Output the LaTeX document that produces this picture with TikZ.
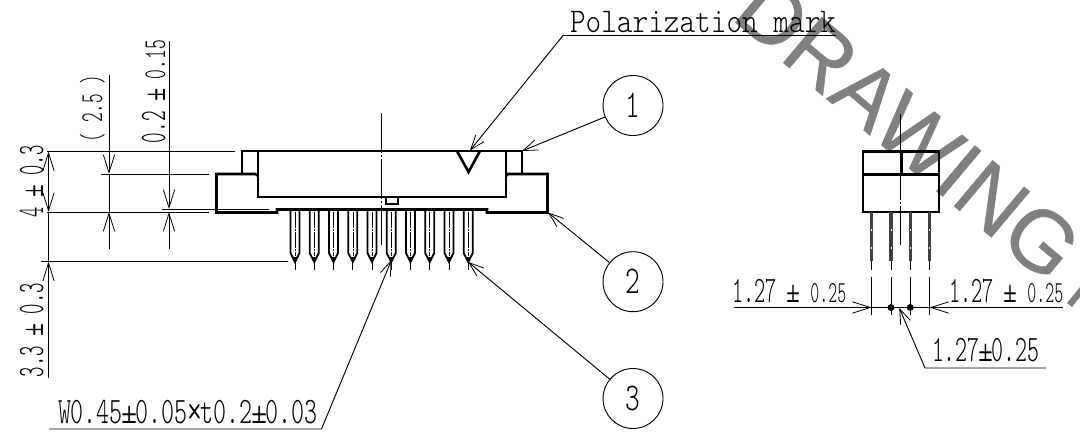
\documentclass[tikz,border=0pt]{standalone}
\usepackage{fontspec}
\usetikzlibrary{arrows.meta}
\newfontfamily\stampFont[FakeBold=0.6]{Liberation Sans}
\newcommand{\fitText}[3]{\scalebox{#1}[#2]{\fontseries{l}\ttfamily #3}}
\newcommand{\pmSign}{\makebox[5.25pt]{\scalebox{1.25}[1.05]{±}}}
\newcommand{\xSign}{\makebox[5.25pt]{\raisebox{-0.8pt}{\scalebox{1.3}[1.2]{×}}}}
\tikzset{
thinLine/.style={line width=0.7pt},
bodyLine/.style={line width=1.9pt, line join=miter},
axisLine/.style={line width=0.6pt, dash pattern=on 30pt off 1.5pt on 1.5pt off 1.5pt},
dimHead/.style={thinLine, >={Straight Barb[length=13.5pt,width=8.5pt,line width=0.6pt]}},
leadHead/.style={thinLine, >={Straight Barb[length=11pt,width=8pt,line width=0.6pt]}},
label/.style={inner sep=0pt, outer sep=0pt, anchor=base west},
partMark/.style={circle, draw, thinLine, minimum size=45pt, inner sep=0pt}
}
\begin{document}
\begin{tikzpicture}[x=0.75pt,y=-0.75pt]
    \useasboundingbox (0,0) rectangle (1080,439);
    \begin{scope}
    \clip (0,0) rectangle (1080,439);
    \node[label, rotate=-40, text=black!50, font=\stampFont\fontsize{65}{65}\selectfont] (stamp) at (730,18) {DRAWING};
    \fill[black!50] (1067,303) -- (1080,287) -- (1080,297) -- (1072,307) -- cycle;
    \end{scope}

    % front view
    \draw[bodyLine] (242,174) -- (242,151) -- (522,151) -- (522,174);
    \draw[bodyLine] (258,151) -- (258,197) -- (506,197) -- (506,151);
    \draw[bodyLine] (256,174) -- (216.5,174) -- (216.5,212.5) -- (277,212.5) -- (277,209.5) -- (487,209.5) -- (487,212.5) -- (547.5,212.5) -- (547.5,174) -- (508,174) -- (506,176);
    \draw[bodyLine] (256,174) -- (258,176);
    \draw[line width=1.5pt] (385.5,197) -- (385.5,203.5) -- (398,203.5) -- (398,197);
    \draw[bodyLine] (457,151) -- (468.5,172) -- (480,151);
    \draw[axisLine] (381.5,113) -- (381.5,246);
    \foreach \p in {295,314.2,333.5,352.8,372,391.2,410.5,429.7,449,468.2}{
        \draw[line width=1.4pt] (\p-4.5,210) -- (\p-4.5,253) -- (\p,262) -- (\p+4.5,253) -- (\p+4.5,210);
        \draw[line width=0.4pt, dash pattern=on 12pt off 1pt on 1pt off 1pt] (\p,212) -- (\p,256);
        \fill (\p-2.5,257) -- (\p,262) -- (\p+2.5,257) -- cycle;
        \draw[thinLine] (\p,262) -- (\p,270);
    }

    % side view
    \draw[bodyLine] (863,151.5) rectangle (939,212);
    \draw[bodyLine] (863,174.5) -- (939,174.5);
    \draw[bodyLine] (901.5,151.5) -- (901.5,174.5);
    \draw[axisLine] (900.5,114) -- (900.5,245);
    \foreach \p in {871.7,891,910.2,929.4}{
        \draw[line width=2.4pt, black!75] (\p,212) -- (\p,261);
        \draw[line width=0.5pt, white, dash pattern=on 1.5pt off 12pt] (\p,229) -- (\p,255);
        \draw[thinLine] (\p,261) -- (\p,270);
        \draw[thinLine] (\p,277) -- (\p,315);
    }
    \fill (891,307.5) circle (2.6pt);
    \fill (910.2,307.5) circle (2.6pt);

    % extension lines
    \coordinate (e_1) at (47,151.5);
    \coordinate (e_2) at (235,151.5);
    \coordinate (e_3) at (47,212);
    \coordinate (e_4) at (209,212);
    \coordinate (e_5) at (101,174);
    \coordinate (e_6) at (209,174);
    \coordinate (e_7) at (162,209);
    \coordinate (e_8) at (269,209);
    \coordinate (e_9) at (41,261.5);
    \coordinate (e_10) at (288,261.5);
    \draw[thinLine] (e_1) -- (e_2);
    \draw[thinLine] (e_3) -- (e_4);
    \draw[thinLine] (e_5) -- (e_6);
    \draw[thinLine] (e_7) -- (e_8);
    \draw[thinLine] (e_9) -- (e_10);

    % dimensions
    \coordinate (d_1) at (48.5,151.5);
    \coordinate (d_2) at (48.5,212);
    \coordinate (d_3) at (48.5,261.5);
    \coordinate (d_4) at (48.5,378);
    \draw[dimHead, <->] (d_1) -- (d_2);
    \draw[dimHead] (d_2) -- (d_3);
    \draw[dimHead, <-] (d_3) -- (d_4);
    \coordinate (f_1) at (109,75);
    \coordinate (f_2) at (109,174);
    \coordinate (f_3) at (109,212);
    \coordinate (f_4) at (109,249);
    \draw[dimHead, ->] (f_1) -- (f_2);
    \draw[dimHead] (f_2) -- (f_3);
    \draw[dimHead, <-] (f_3) -- (f_4);
    \coordinate (g_1) at (169,41);
    \coordinate (g_2) at (169,209);
    \coordinate (g_3) at (169,212);
    \coordinate (g_4) at (169,249);
    \draw[dimHead, ->] (g_1) -- (g_2);
    \draw[dimHead, <-] (g_3) -- (g_4);
    \coordinate (h_1) at (733.5,307.5);
    \coordinate (h_2) at (871.7,307.5);
    \coordinate (h_3) at (929.4,307.5);
    \coordinate (h_4) at (1063,307.5);
    \draw[dimHead, ->] (h_1) -- (h_2);
    \draw[thinLine] (h_2) -- (h_3);
    \draw[dimHead, ->] (h_4) -- (h_3);

    \node[label, rotate=90] (t_1) at (43,217) {\fitText{1.47}{2.8}{4 \pmSign{} 0.3}};
    \node[label, rotate=90] (t_2) at (43,377) {\fitText{1.49}{2.8}{3.3 \pmSign{} 0.3}};
    \node[label, rotate=90] (t_3) at (102,142) {\fitText{1.37}{2.4}{( 2.5 )}};
    \node[label, rotate=90] (t_4) at (165,143) {\fitText{1.52}{2.8}{0.2 \pmSign{} \scalebox{.92}[.85]{0.15}}};
    \node[label] (t_5) at (570,32) {\fitText{2.236}{2.6}{Polarization mark}};
    \node[label] (t_6) at (58,423) {\fitText{1.857}{2.8}{W0.45\pmSign{}0.05\xSign{}t0.2\pmSign{}0.03}};
    \node[label] (t_7) at (732,302.5) {\fitText{1.6}{2.8}{1.27 \pmSign{} \scalebox{.8}[.82]{0.25}}};
    \node[label] (t_8) at (949,302.5) {\fitText{1.6}{2.8}{1.27 \pmSign{} \scalebox{.8}[.82]{0.25}}};
    \node[label] (t_9) at (932,361.5) {\fitText{1.71}{2.8}{1.27\pmSign{}0.25}};

    % leaders
    \coordinate (l_1) at (836,35.5);
    \coordinate (l_2) at (563,35.5);
    \coordinate (l_3) at (470,150.5);
    \draw[leadHead, ->] (l_1) -- (l_2) -- (l_3);
    \coordinate (l_4) at (49,429);
    \coordinate (l_5) at (321.5,429);
    \coordinate (l_6) at (391.5,260);
    \draw[leadHead, ->] (l_4) -- (l_5) -- (l_6);
    \coordinate (l_7) at (1046,368);
    \coordinate (l_8) at (925,368);
    \coordinate (l_9) at (899.3,308);
    \draw[leadHead, ->] (l_7) -- (l_8) -- (l_9);

    % part marks
    \node[partMark] (c_1) at (633,105.5) {\fitText{2.1}{2.95}{1}};
    \node[partMark] (c_2) at (633,281.7) {\fitText{2.1}{2.95}{2}};
    \node[partMark] (c_3) at (633,398.5) {\fitText{2.1}{2.95}{3}};
    \coordinate (p_1) at (522,151);
    \coordinate (p_2) at (548,212.5);
    \coordinate (p_3) at (468.2,262);
    \draw[leadHead, ->] (c_1) -- (p_1);
    \draw[leadHead, ->] (c_2) -- (p_2);
    \draw[leadHead, ->] (c_3) -- (p_3);
\end{tikzpicture}
\end{document}
